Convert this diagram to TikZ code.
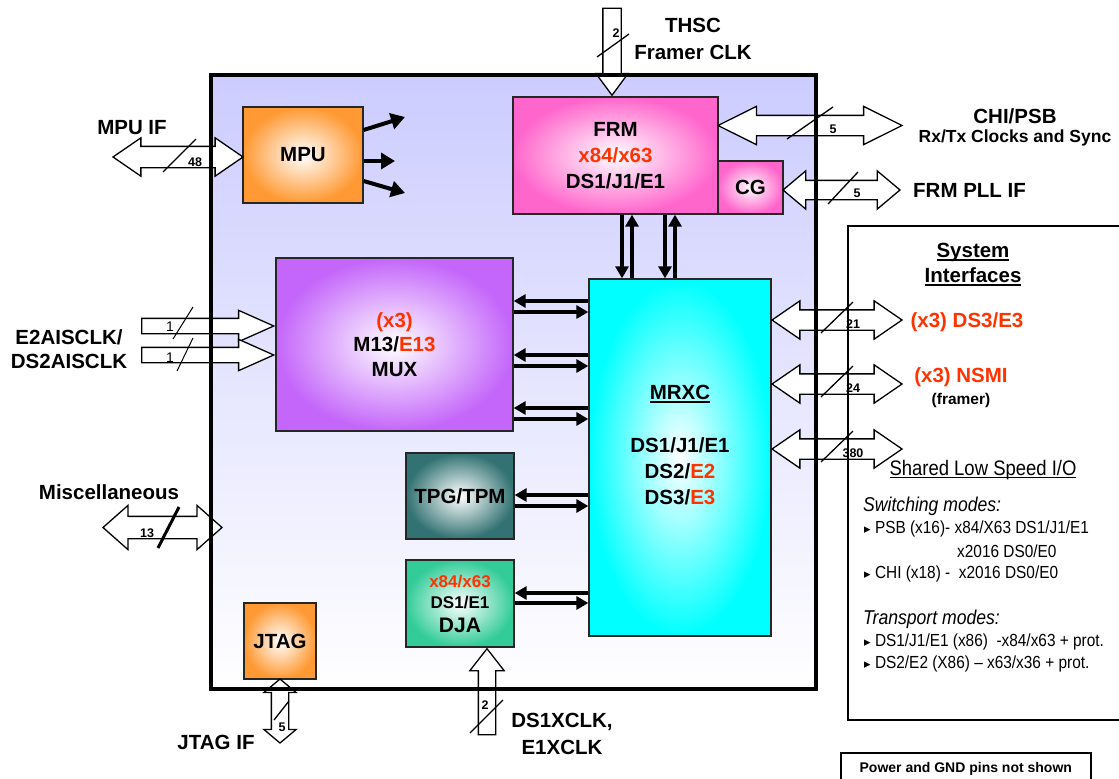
\documentclass[tikz,border=0pt]{standalone}
\usepackage{fontspec}
\setmainfont{Liberation Sans}
\newfontfamily\narrowfont[FakeStretch=0.88]{Liberation Sans}
\newfontfamily\trifont{DejaVu Sans}
\usetikzlibrary{shapes.arrows,arrows.meta}

\definecolor{chiptop}{HTML}{CCCCFF}
\definecolor{mpuorange}{HTML}{FF9933}
\definecolor{frmpink}{HTML}{FF66CC}
\definecolor{muxpurple}{HTML}{C466FA}
\definecolor{mrxccyan}{HTML}{00FFFF}
\definecolor{tpgteal}{HTML}{327272}
\definecolor{djagreen}{HTML}{33CC99}
\definecolor{hot}{HTML}{FF3300}

\newcommand{\hot}[1]{\textcolor{hot}{#1}}
\newcommand{\undl}[1]{\setbox0\hbox{#1}\leavevmode\rlap{\rule[-3pt]{\wd0}{1.6pt}}\box0}
\newcommand{\tri}{{\trifont\fontsize{13}{13}\selectfont ▸}}

\begin{document}
\begin{tikzpicture}[x=1pt,y=-1pt]
				\tikzset{blk/.style = {draw=black!85, line width=1.3pt, inner color=white, outer color=#1, align=center, inner sep=0pt, font=\bfseries\fontsize{20.5}{26}\selectfont}}
				\tikzset{lbl/.style = {font=\bfseries\fontsize{20.5}{27}\selectfont, align=center, inner sep=0pt}}
				\tikzset{sublbl/.style = {font=\bfseries\fontsize{15.5}{18}\selectfont, inner sep=0pt}}
				\tikzset{wid/.style = {font=\bfseries\fontsize{12.5}{13}\selectfont, inner sep=0pt}}
				\tikzset{note/.style = {font=\narrowfont\fontsize{17.5}{20}\selectfont, inner sep=0pt, anchor=west}}
				\tikzset{link/.style = {line width=3.6pt, -{Triangle[length=12pt,width=13pt]}}}
				\tikzset{fat/.style = {line width=4pt, -{Triangle[length=14pt,width=16pt]}}}
				\tikzset{busmark/.style = {line width=1.3pt}}
				\tikzset{dbus/.style = {double arrow, draw, fill=white, line width=1.3pt, inner xsep=0pt}}
				\tikzset{sbus/.style = {single arrow, draw, fill=white, line width=1.3pt, inner xsep=0pt, anchor=tip}}
				
				\useasboundingbox (0,0) rectangle (1119,779);
				
				% chip outline
				\node[draw, line width=4pt, outer sep=0pt, top color=chiptop, bottom color=white, minimum width=605pt, minimum height=614pt] (chip) at (513.5,382) {};
				
				% blocks
				\node[blk=mpuorange, minimum width=120pt, minimum height=96pt] (mpu) at (303,155) {MPU};
				\node[blk=frmpink, minimum width=205pt, minimum height=117pt] (frm) at (615.5,155.5) {FRM\\\hot{x84/x63}\\DS1/J1/E1};
				\node[blk=frmpink, minimum width=65pt, minimum height=53pt] (cg) at (750.5,187.5) {CG};
				\node[blk=muxpurple, minimum width=237pt, minimum height=173pt, font=\bfseries\fontsize{20.5}{24.5}\selectfont] (m13) at (394.5,344.5) {\hot{(x3)}\\M13/\hot{E13}\\MUX};
				\node[blk=mrxccyan, minimum width=182pt, minimum height=357pt] (mrxc) at (680,457.5) {};
				\node[lbl, font=\bfseries\fontsize{20.5}{26}\selectfont] (mrxclbl) at (680,445.5) {\undl{MRXC}\\[27pt]DS1/J1/E1\\DS2/\hot{E2}\\DS3/\hot{E3}};
				\node[blk=tpgteal, minimum width=108pt, minimum height=86pt] (tpg) at (460,496) {TPG/TPM};
				\node[blk=djagreen, minimum width=108pt, minimum height=87pt, font=\bfseries\fontsize{17}{21}\selectfont] (dja) at (460,603.5) {\hot{x84/x63}\\DS1/E1\\[3pt]{\fontsize{21}{24}\selectfont DJA}};
				\node[blk=mpuorange, minimum width=72pt, minimum height=76pt] (jtag) at (280,641) {JTAG};
				
				% internal buses
				\foreach \ya/\yb in {301/312,355/366,408/419}{
					\draw[link] (mrxc.west |- 0,\ya) -- (m13.east |- 0,\ya);
					\draw[link] (m13.east |- 0,\yb) -- (mrxc.west |- 0,\yb);
				}
				\draw[link] (mrxc.west |- 0,495) -- (tpg.east |- 0,495);
				\draw[link] (tpg.east |- 0,506) -- (mrxc.west |- 0,506);
				\draw[link] (mrxc.west |- 0,593) -- (dja.east |- 0,593);
				\draw[link] (dja.east |- 0,603) -- (mrxc.west |- 0,603);
				\foreach \xa/\xb in {622/632,665/675}{
					\draw[link] (frm.south -| \xa,0) -- (mrxc.north -| \xa,0);
					\draw[link] (mrxc.north -| \xb,0) -- (frm.south -| \xb,0);
				}
				
				\coordinate (mpuo1) at (405,117);
				\coordinate (mpuo2) at (395,161);
				\coordinate (mpuo3) at (405,193);
				\draw[fat] (mpu.east |- 0,130) -- (mpuo1);
				\draw[fat] (mpu.east |- 0,161) -- (mpuo2);
				\draw[fat] (mpu.east |- 0,181) -- (mpuo3);
				
				% external buses
				\node[dbus, minimum height=130pt, inner ysep=10pt, double arrow head extend=8.5pt, double arrow tip angle=69] (mpuif) at (178,157) {};
				\draw[busmark] (163,172) -- (196,139);
				\node[wid] (mpuifw) at (195,162) {48};
				
				\node[sbus, rotate=-90, minimum height=87pt, inner ysep=8.5pt, single arrow head extend=7pt, single arrow tip angle=73] (thscbus) at (frm.north -| 612,0) {};
				\draw[busmark] (597,57) -- (629,34);
				\node[wid] (thscw) at (616,33) {2};
				
				\node[dbus, minimum height=184pt, inner ysep=9.5pt, double arrow head extend=9pt, double arrow tip angle=53] (chibus) at (810,125.5) {};
				\draw[busmark] (787,139) -- (833,107);
				\node[wid] (chiw) at (833,129) {5};
				
				\node[dbus, minimum height=117pt, inner ysep=9pt, double arrow head extend=9.5pt, double arrow tip angle=80] (pllbus) at (841.5,190) {};
				\draw[busmark] (828,204) -- (858,172);
				\node[wid] (pllw) at (857,193) {5};
				
				\node[sbus, minimum height=132pt, inner ysep=7pt, single arrow head extend=8pt, single arrow tip angle=48] (ais1) at (m13.west |- 0,326) {};
				\draw[line width=1pt] (173,339) -- (193,307);
				\node[wid, font=\fontsize{14}{14}\selectfont] (ais1w) at (170,327) {1};
				\node[sbus, minimum height=132pt, inner ysep=7pt, single arrow head extend=8pt, single arrow tip angle=48] (ais2) at (m13.west |- 0,355) {};
				\draw[line width=1pt] (177,371) -- (193,338);
				\node[wid, font=\fontsize{14}{14}\selectfont] (ais2w) at (170,358) {1};
				
				\foreach \yy/\nn [count=\k] in {320/21,384/24,449/380}{
					\node[dbus, minimum height=130pt, inner ysep=9.5pt, double arrow head extend=9pt, double arrow tip angle=69] (sys\k) at (837,\yy) {};
					\draw[busmark] (821,\yy+13) -- (853,\yy-18);
					\node[wid] (sysw\k) at (853,\yy+4) {\nn};
				}
				
				\node[dbus, minimum height=119pt, inner ysep=10.5pt, double arrow head extend=11pt, double arrow tip angle=83] (miscbus) at (162.5,527.5) {};
				\draw[line width=3pt] (158,548) -- (179,507);
				\node[wid] (miscw) at (147,533) {13};
				
				\node[dbus, rotate=90, minimum height=64pt, inner ysep=8pt, double arrow head extend=7.5pt, double arrow tip angle=100] (jtagbus) at (280,711) {};
				\draw[busmark] (274,720) -- (289,701);
				\node[wid] (jtagw) at (282,727) {5};
				
				\node[sbus, rotate=90, minimum height=86pt, inner ysep=8pt, single arrow head extend=8.5pt, single arrow tip angle=76] (xclkbus) at (dja.south -| 487,0) {};
				\draw[busmark] (470,733) -- (503,700);
				\node[wid] (xclkw) at (485,705) {2};
				
				% frames on top
				\draw[line width=4pt] (chip.north west) rectangle (chip.south east);
				\draw[line width=1.6pt] (848,226) rectangle (1130,720);
				\node[draw, line width=1.6pt, minimum width=250pt, minimum height=32pt, anchor=north west, font=\bfseries\fontsize{14}{16}\selectfont] (pwr) at (840,752) {Power and GND pins not shown};
				
				% labels
				\node[lbl] (mpuiflbl) at (132,128) {MPU IF};
				\node[lbl] (thsclbl) at (693,38.5) {THSC\\Framer CLK};
				\node[lbl] (chilbl) at (1015,116) {CHI/PSB};
				\node[sublbl, font=\bfseries\fontsize{17.5}{20}\selectfont] (rxtxlbl) at (1015,138) {Rx/Tx Clocks and Sync};
				\node[lbl, anchor=west] (plllbl) at (913,190) {FRM PLL IF};
				\node[lbl, font=\bfseries\fontsize{20.5}{24}\selectfont] (aislbl) at (69,349) {E2AISCLK/\\DS2AISCLK};
				\node[lbl] (misclbl) at (109,492) {Miscellaneous};
				\node[lbl] (jtaglbl) at (216,742) {JTAG IF};
				\node[lbl] (xclklbl) at (562,733.5) {DS1XCLK,\\E1XCLK};
				\node[lbl, font=\bfseries\fontsize{20.5}{25}\selectfont] (syslbl) at (973,264.5) {\undl{System}\\\undl{Interfaces}};
				\node[lbl, text=hot] (ds3lbl) at (967,322) {(x3) DS3/E3};
				\node[lbl, text=hot] (nsmilbl) at (961,377) {(x3) NSMI};
				\node[sublbl] (framerlbl) at (961,400) {(framer)};
				\node[note, anchor=center, font=\narrowfont\fontsize{21}{24}\selectfont] (sharedlbl) at (983,470) {\undl{Shared Low Speed I/O}};
				\node[note, font=\narrowfont\itshape\fontsize{20}{22}\selectfont] (swlbl) at (863,506) {Switching modes:};
				\node[note] (psblbl) at (864,529) {\tri\ PSB (x16)- x84/X63 DS1/J1/E1};
				\node[note] (psblbl2) at (957,551) {x2016 DS0/E0};
				\node[note] (chilbl2) at (864,574) {\tri\ CHI (x18) -\ \ x2016 DS0/E0};
				\node[note, font=\narrowfont\itshape\fontsize{20}{22}\selectfont] (trlbl) at (863,619) {Transport modes:};
				\node[note] (ds1lbl) at (864,642) {\tri\ DS1/J1/E1 (x86)\ \ -x84/x63 + prot.};
				\node[note] (ds2lbl) at (864,664) {\tri\ DS2/E2 (X86) – x63/x36 + prot.};
				
			\end{tikzpicture}
\end{document}
